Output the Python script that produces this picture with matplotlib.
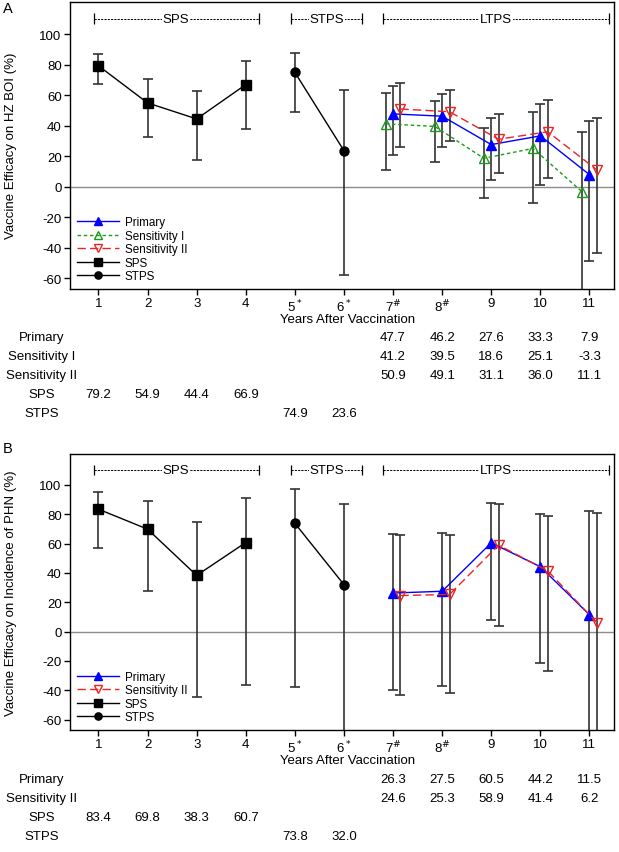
import matplotlib
matplotlib.use("Agg")
import matplotlib.pyplot as plt
from matplotlib.transforms import blended_transform_factory

plt.rcParams["font.family"] = ["Liberation Sans", "DejaVu Sans"]
plt.rcParams["font.size"] = 9.5
plt.rcParams["axes.unicode_minus"] = False

W, H = 619, 853

years = [1, 2, 3, 4, 5, 6, 7, 8, 9, 10, 11]
year_labels = ["1", "2", "3", "4", r"5$^*$", r"6$^*$", r"7$^\#$", r"8$^\#$", "9", "10", "11"]
sps_x = [1, 2, 3, 4]
stps_x = [5, 6]
ltps_x = [7, 8, 9, 10, 11]

# panel A: HZ BOI
a_sps = [79.2, 54.9, 44.4, 66.9]
a_sps_lo = [67.2, 32.3, 17.7, 37.8]
a_sps_hi = [87.2, 70.3, 62.5, 82.6]
a_stps = [74.9, 23.6]
a_stps_lo = [48.8, -57.7]
a_stps_hi = [87.9, 63.4]
a_prim = [47.7, 46.2, 27.6, 33.3, 7.9]
a_prim_lo = [21.1, 25.8, 4.4, 1.3, -48.4]
a_prim_hi = [65.7, 61.0, 45.0, 54.5, 42.9]
a_sens1 = [41.2, 39.5, 18.6, 25.1, -3.3]
a_sens1_lo = [11.0, 16.5, -7.4, -10.6, -75.0]
a_sens1_hi = [61.7, 56.4, 38.2, 49.2, 35.7]
a_sens2 = [50.9, 49.1, 31.1, 36.0, 11.1]
a_sens2_lo = [25.8, 29.8, 9.1, 5.7, -43.3]
a_sens2_hi = [68.0, 63.4, 47.5, 57.1, 45.0]

# panel B: PHN
b_sps = [83.4, 69.8, 38.3, 60.7]
b_sps_lo = [56.8, 27.4, -44.3, -36.3]
b_sps_hi = [94.8, 89.1, 74.9, 91.0]
b_stps = [73.8, 32.0]
b_stps_lo = [-37.6, -80.0]
b_stps_hi = [97.3, 87.2]
b_prim = [26.3, 27.5, 60.5, 44.2, 11.5]
b_prim_lo = [-39.9, -37.3, 7.8, -21.2, -80.0]
b_prim_hi = [66.8, 67.2, 87.6, 79.9, 82.0]
b_sens2 = [24.6, 25.3, 58.9, 41.4, 6.2]
b_sens2_lo = [-43.2, -42.0, 4.0, -27.1, -80.0]
b_sens2_hi = [65.7, 66.1, 86.9, 78.9, 81.0]

ecol = "#333333"


def errs(v, lo, hi):
    return [[a - b for a, b in zip(v, lo)], [b - a for a, b in zip(v, hi)]]


def series(ax, x, v, lo, hi, dx, **kw):
    xs = [i + dx for i in x]
    ax.errorbar(xs, v, yerr=errs(v, lo, hi), fmt="none", ecolor=ecol,
                elinewidth=1.2, capsize=3.8, capthick=1.2, zorder=2)
    return ax.plot(xs, v, zorder=3, **kw)[0]


def bracket(ax, x0, x1, label, y=110):
    ax.plot([x0, x1], [y, y], color="black", lw=0.7, ls=(0, (2.2, 1.2)))
    ax.vlines([x0, x1], y - 3.5, y + 3.5, color="black", lw=0.9)
    ax.text((x0 + x1) / 2, y, label, ha="center", va="center",
            bbox=dict(facecolor="white", edgecolor="none", pad=0.6))


def setup(ax, ylabel, ycenter):
    ax.set_xlim(0.42, 11.5)
    ax.set_ylim(-67, 121)
    ax.set_xticks(years)
    ax.set_xticklabels(year_labels)
    ax.set_yticks(range(-60, 101, 20))
    ax.tick_params(direction="out", length=4, width=1, pad=2)
    ax.axhline(0, color="#8c8c8c", lw=1, zorder=1)
    for s in ax.spines.values():
        s.set_linewidth(1)
    fig.text(11 / W, 1 - ycenter / H, ylabel, rotation=90, ha="center", va="center")
    bracket(ax, 0.9, 4.26, "SPS")
    bracket(ax, 4.93, 6.37, "STPS")
    bracket(ax, 6.8, 11.4, "LTPS")


def table(ax, rows, xlab_y):
    tr = blended_transform_factory(ax.transData, fig.transFigure)
    tra = blended_transform_factory(ax.transAxes, fig.transFigure)
    ax.text(0.51, 1 - xlab_y / H, "Years After Vaccination", transform=tra,
            ha="center", va="center")
    for name, xs, vals, ypx in rows:
        fig.text(42 / W, 1 - ypx / H, name, ha="center", va="center")
        for x, v in zip(xs, vals):
            ax.text(x, 1 - ypx / H, "%.1f" % v, transform=tr, ha="center", va="center")


def legend(ax, handles):
    ax.legend(handles=handles, loc="lower left", frameon=False, fontsize=8.4,
              handlelength=3.6, handletextpad=0.5, labelspacing=0.12,
              markerscale=0.8, borderaxespad=0.3, borderpad=0.3)


fig = plt.figure(figsize=(W / 100, H / 100), dpi=100)
ax1 = fig.add_axes([70 / W, 1 - 290 / H, 544 / W, 287 / H])
ax2 = fig.add_axes([70 / W, 1 - 731 / H, 544 / W, 276 / H])

# panel A
setup(ax1, "Vaccine Efficacy on HZ BOI (%)", 146)
h1 = series(ax1, ltps_x, a_prim, a_prim_lo, a_prim_hi, 0, color="#0000ff", lw=1,
            marker="^", ms=7, mfc="#0000ff", mec="#0000ff", label="Primary")
h2 = series(ax1, ltps_x, a_sens1, a_sens1_lo, a_sens1_hi, -0.15, color="#1a9a1a", lw=1,
            ls=(0, (2.5, 2)), marker="^", ms=7, mfc="none", mec="#1a9a1a",
            label="Sensitivity I")
h3 = series(ax1, ltps_x, a_sens2, a_sens2_lo, a_sens2_hi, 0.15, color="#ee2222", lw=1,
            ls=(0, (6, 3)), marker="v", ms=7, mfc="none", mec="#ee2222",
            label="Sensitivity II")
h4 = series(ax1, sps_x, a_sps, a_sps_lo, a_sps_hi, 0, color="black", lw=1,
            marker="s", ms=7, label="SPS")
h5 = series(ax1, stps_x, a_stps, a_stps_lo, a_stps_hi, 0, color="black", lw=1,
            marker="o", ms=6.5, label="STPS")
legend(ax1, [h1, h2, h3, h4, h5])
fig.text(8 / W, 1 - 9 / H, "A", ha="center", va="center", fontsize=10.5)
table(ax1, [
    ("Primary", ltps_x, a_prim, 338),
    ("Sensitivity I", ltps_x, a_sens1, 357),
    ("Sensitivity II", ltps_x, a_sens2, 376),
    ("SPS", sps_x, a_sps, 395),
    ("STPS", stps_x, a_stps, 414),
], 320)

# panel B
setup(ax2, "Vaccine Efficacy on Incidence of PHN (%)", 593)
g1 = series(ax2, ltps_x, b_prim, b_prim_lo, b_prim_hi, 0, color="#0000ff", lw=1,
            marker="^", ms=7, mfc="#0000ff", mec="#0000ff", label="Primary")
g3 = series(ax2, ltps_x, b_sens2, b_sens2_lo, b_sens2_hi, 0.15, color="#ee2222", lw=1,
            ls=(0, (6, 3)), marker="v", ms=7, mfc="none", mec="#ee2222",
            label="Sensitivity II")
g4 = series(ax2, sps_x, b_sps, b_sps_lo, b_sps_hi, 0, color="black", lw=1,
            marker="s", ms=7, label="SPS")
g5 = series(ax2, stps_x, b_stps, b_stps_lo, b_stps_hi, 0, color="black", lw=1,
            marker="o", ms=6.5, label="STPS")
legend(ax2, [g1, g3, g4, g5])
fig.text(8 / W, 1 - 449 / H, "B", ha="center", va="center", fontsize=10.5)
table(ax2, [
    ("Primary", ltps_x, b_prim, 780),
    ("Sensitivity II", ltps_x, b_sens2, 799),
    ("SPS", sps_x, b_sps, 818),
    ("STPS", stps_x, b_stps, 837),
], 761)

fig.savefig("out.png", dpi=100)
